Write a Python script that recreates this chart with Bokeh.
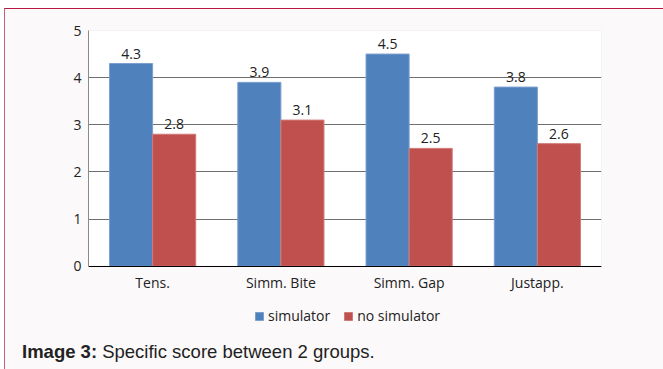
from bokeh.plotting import figure
from bokeh.models import (ColumnDataSource, FactorRange, Range1d, Legend, LegendItem,
                          LabelSet, FixedTicker, Div, BoxAnnotation)
from bokeh.layouts import column
from bokeh.transform import dodge
from bokeh.core.properties import value
from bokeh.embed import file_html
from bokeh.resources import INLINE

categories = ["Tens.", "Simm. Bite", "Simm. Gap", "Justapp."]
simulator = [4.3, 3.9, 4.5, 3.8]
no_simulator = [2.8, 3.1, 2.5, 2.6]
series_names = ["simulator", "no simulator"]
y_ticks = [0, 1, 2, 3, 4, 5]
caption_bold = "Image 3:"
caption_text = "Specific score between 2 groups."

src = ColumnDataSource(dict(
    cat=categories,
    sim=simulator,
    nosim=no_simulator,
    sim_lbl=[f"{v:.1f}" for v in simulator],
    nosim_lbl=[f"{v:.1f}" for v in no_simulator],
))

FONT = "Open Sans"
FS = "14px"
TXT = "#222222"
PAGE_BG = "#fbf9f9"

y_min, y_max = y_ticks[0], y_ticks[-1]
px_per_unit = 47          # plot height 235 px for 5 units
below_px = 69             # room under the zero line for labels and legend
p = figure(width=658, height=326, x_range=FactorRange(*categories, range_padding=0),
           y_range=Range1d(y_min - below_px / px_per_unit, y_max),
           output_backend="svg", toolbar_location=None,
           min_border_left=83, min_border_right=62, min_border_top=21, min_border_bottom=0)
p.border_fill_color = PAGE_BG
p.background_fill_color = PAGE_BG
p.outline_line_color = None

plot_bg = BoxAnnotation(bottom=y_min, top=y_max, fill_color="white", fill_alpha=1,
                        line_color="#c8c8c8", line_width=1, level="underlay")
p.add_layout(plot_bg)
p.center = [plot_bg] + [r for r in p.center if r is not plot_bg]

w = 0.336
r1 = p.vbar(x=dodge("cat", -w / 2, range=p.x_range), top="sim", width=w, source=src,
            fill_color="#4f81bd", line_color="#7c9fd0", line_width=1)
r2 = p.vbar(x=dodge("cat", w / 2, range=p.x_range), top="nosim", width=w, source=src,
            fill_color="#c0504d", line_color="#d07a78", line_width=1)

for col, lbl, off in (("sim", "sim_lbl", -w / 2), ("nosim", "nosim_lbl", w / 2)):
    ls = LabelSet(x=dodge("cat", off, range=p.x_range), y=col, text=lbl, source=src,
                  text_align="center", text_baseline="alphabetic", y_offset=5,
                  text_font=value(FONT), text_font_size=FS, text_color=TXT)
    p.add_layout(ls)

p.xgrid.grid_line_color = None
p.ygrid.ticker = FixedTicker(ticks=y_ticks)
p.ygrid.grid_line_color = "#6f6f6f"
p.ygrid.grid_line_width = 1
p.yaxis.ticker = FixedTicker(ticks=y_ticks)
p.yaxis.bounds = (y_min, y_max)
p.yaxis.axis_line_color = "#8a8a8a"
p.yaxis.major_tick_line_color = None
p.yaxis.minor_tick_line_color = None
p.yaxis.major_tick_out = 0
p.yaxis.minor_tick_out = 0
p.yaxis.major_label_standoff = 7
p.yaxis.major_label_text_font = FONT
p.yaxis.major_label_text_font_size = FS
p.yaxis.major_label_text_color = TXT

p.xaxis.fixed_location = y_min
p.xaxis.axis_line_color = "#000000"
p.xaxis.major_tick_line_color = None
p.xaxis.minor_tick_line_color = None
p.xaxis.major_tick_out = 0
p.xaxis.minor_tick_out = 0
p.xaxis.major_label_standoff = 7
p.xaxis.major_label_text_font = FONT
p.xaxis.major_label_text_font_size = FS
p.xaxis.major_label_text_color = TXT

legend = Legend(items=[LegendItem(label=series_names[0], renderers=[r1]),
                       LegendItem(label=series_names[1], renderers=[r2])],
                orientation="horizontal", location=(166, 10),
                padding=0, margin=0, spacing=13, label_standoff=4,
                glyph_width=10, glyph_height=10, label_height=12,
                label_text_font=FONT, label_text_font_size=FS, label_text_color=TXT,
                border_line_color=None, background_fill_alpha=0)
p.add_layout(legend)

caption = Div(text=f"<b>{caption_bold}</b> {caption_text}", width=600, height=28,
              margin=(6, 0, 0, 17),
              styles={"font-family": "'Liberation Sans', Arial, sans-serif",
                      "font-size": "18.5px", "color": TXT, "line-height": "normal"})

layout = column(p, caption, spacing=0, margin=(8, 0, 0, 4),
                styles={"background-color": PAGE_BG,
                        "border-top": "1px solid #b81a45",
                        "border-left": "1px solid #c8607a"})

open("out.html", "w").write(file_html(layout, INLINE))
